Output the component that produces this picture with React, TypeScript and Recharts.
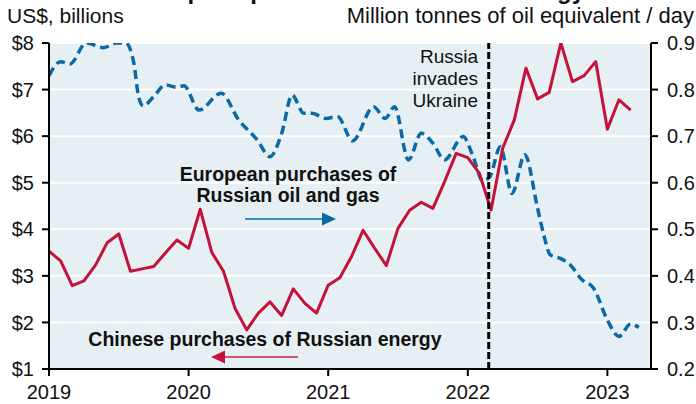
import React from "react";
import {
  ComposedChart,
  Line,
  XAxis,
  YAxis,
  CartesianGrid,
  ReferenceLine,
} from "recharts";

// Month index: 0 = Jan 2019
const YEAR_TICKS = [0, 12, 24, 36, 48];
const YEAR_LABELS = ["2019", "2020", "2021", "2022", "2023"];
const LEFT_TICKS = [1, 2, 3, 4, 5, 6, 7, 8];
const RIGHT_TICKS = [0.2, 0.3, 0.4, 0.5, 0.6, 0.7, 0.8, 0.9];
const INVASION_MONTH = 37.8;

// Chinese purchases of Russian energy (US$ bn, left axis), monthly
const CHINA_VALUES = [
  3.53, 3.32, 2.79, 2.89, 3.23, 3.71, 3.9, 3.1, 3.15, 3.2, 3.49, 3.77,
  3.59, 4.43, 3.5, 3.1, 2.3, 1.84, 2.2, 2.44, 2.15, 2.72, 2.41, 2.2,
  2.8, 2.96, 3.41, 3.98, 3.59, 3.22, 4.02, 4.41, 4.58, 4.45, 5.02, 5.63,
  5.54, 5.2, 4.41, 5.74, 6.35, 7.46, 6.8, 6.94, 8.0, 7.17, 7.3, 7.6,
  6.15, 6.78, 6.56,
];

// European purchases of Russian oil and gas (Mtoe/day, right axis)
const EUROPE_MONTHS = [
  0, 1.0, 1.8, 3.2, 4.7, 5.8, 6.6, 7.3, 7.7, 8.1, 9.0, 10.0, 11.0, 11.6,
  12.9, 14.8, 16.3, 17.9, 19.0, 20.0, 20.9, 21.9, 22.6, 23.8, 24.8, 26.1,
  27.9, 28.9, 29.7, 30.9, 32.0, 33.0, 34.0, 35.6, 36.4, 37.3, 37.9, 38.8,
  39.8, 40.9, 42.0, 42.5, 43.1, 43.9, 44.8, 45.8, 46.8, 48.0, 49.0, 50.0,
  50.7,
];
const EUROPE_VALUES = [
  0.83, 0.86, 0.855, 0.9, 0.89, 0.9, 0.9, 0.856, 0.785, 0.765, 0.785, 0.81,
  0.805, 0.808, 0.756, 0.792, 0.735, 0.692, 0.656, 0.706, 0.788, 0.749,
  0.749, 0.738, 0.742, 0.69, 0.763, 0.738, 0.763, 0.649, 0.706, 0.685,
  0.649, 0.699, 0.66, 0.604, 0.613, 0.677, 0.577, 0.66, 0.545, 0.491,
  0.445, 0.438, 0.424, 0.392, 0.374, 0.305, 0.27, 0.297, 0.289,
];

const chinaData = CHINA_VALUES.map((v, i) => ({ m: i, china: v }));
const europeData = EUROPE_MONTHS.map((m, i) => ({ m, europe: EUROPE_VALUES[i] }));

const FONT = '"Liberation Sans", Arial, Helvetica, sans-serif';
const RED = "#c4123a";
const BLUE = "#0b6aa5";
const TEXT = "#111";

export default function App() {
  return (
    <div style={{ position: "absolute", left: 0, top: 0, width: 696, height: 404, background: "#fff", fontFamily: FONT }}>
      <ComposedChart
        width={696}
        height={404}
        margin={{ top: 43, right: 0, bottom: 0, left: 0 }}
        style={{ fontFamily: FONT }}
      >
        <CartesianGrid
          yAxisId="left"
          vertical={false}
          stroke="#ffffff"
          strokeWidth={2}
          fill="#e6eff3"
        />
        <XAxis
          type="number"
          dataKey="m"
          domain={[0, 51.75]}
          allowDataOverflow
          ticks={YEAR_TICKS}
          interval={0}
          tickFormatter={(v: number) => YEAR_LABELS[YEAR_TICKS.indexOf(v)]}
          height={35}
          tickSize={7}
          tickMargin={9}
          axisLine={{ stroke: "#000", strokeWidth: 2 }}
          tickLine={{ stroke: "#000", strokeWidth: 2 }}
          tick={{ fill: TEXT, fontSize: 20, fontFamily: FONT }}
        />
        <YAxis
          yAxisId="left"
          orientation="left"
          width={49}
          domain={[1, 8]}
          allowDataOverflow
          ticks={LEFT_TICKS}
          interval={0}
          tickFormatter={(v: number) => "$" + v}
          tickSize={7}
          tickMargin={8}
          axisLine={{ stroke: "#000", strokeWidth: 2 }}
          tickLine={{ stroke: "#000", strokeWidth: 2 }}
          tick={{ fill: TEXT, fontSize: 20, fontFamily: FONT }}
        />
        <YAxis
          yAxisId="right"
          orientation="right"
          width={45}
          domain={[0.2, 0.9]}
          allowDataOverflow
          ticks={RIGHT_TICKS}
          interval={0}
          tickFormatter={(v: number) => v.toFixed(1)}
          tickSize={7}
          tickMargin={9}
          axisLine={{ stroke: "#000", strokeWidth: 2 }}
          tickLine={{ stroke: "#000", strokeWidth: 2 }}
          tick={{ fill: TEXT, fontSize: 20, fontFamily: FONT, textAnchor: "start" }}
        />
        <Line
          yAxisId="right"
          data={europeData}
          dataKey="europe"
          type="monotone"
          stroke={BLUE}
          strokeWidth={3.5}
          strokeDasharray="9 5"
          dot={false}
          activeDot={false}
          isAnimationActive={false}
        />
        <Line
          yAxisId="left"
          data={chinaData}
          dataKey="china"
          type="linear"
          stroke={RED}
          strokeWidth={3}
          strokeLinejoin="round"
          dot={false}
          activeDot={false}
          isAnimationActive={false}
        />
        <ReferenceLine
          yAxisId="left"
          x={INVASION_MONTH}
          stroke="#000"
          strokeWidth={3}
          strokeDasharray="7 3"
        />
      </ComposedChart>
      <svg
        width={696}
        height={404}
        style={{ position: "absolute", left: 0, top: 0, pointerEvents: "none" }}
      >
        <text x={585} y={-1} textAnchor="end" fontSize={24} fontWeight="bold" fill={TEXT} fontFamily={FONT}>
          European purchases of Russian energy
        </text>
        <text x={7} y={22.5} fontSize={21} fill={TEXT} fontFamily={FONT}>
          US$, billions
        </text>
        <text x={694} y={22.5} textAnchor="end" fontSize={22} fill={TEXT} fontFamily={FONT}>
          Million tonnes of oil equivalent / day
        </text>
        <g fontSize={19} fill={TEXT} fontFamily={FONT} textAnchor="end">
          <text x={478} y={63}>Russia</text>
          <text x={478} y={85}>invades</text>
          <text x={478} y={107}>Ukraine</text>
        </g>
        <g fontSize={19.5} fontWeight="bold" fill={TEXT} fontFamily={FONT} textAnchor="middle">
          <text x={288} y={181}>European purchases of</text>
          <text x={288} y={202}>Russian oil and gas</text>
        </g>
        <line x1={245} y1={219} x2={324} y2={219} stroke="#3a8cc4" strokeWidth={2} />
        <polygon points="336,219 322,212.5 322,225.5" fill={BLUE} />
        <text x={265} y={346} textAnchor="middle" fontSize={19.5} fontWeight="bold" fill={TEXT} fontFamily={FONT}>
          Chinese purchases of Russian energy
        </text>
        <line x1={298} y1={357} x2={223} y2={357} stroke="#d35572" strokeWidth={2} />
        <polygon points="211,357 225,350.5 225,363.5" fill={RED} />
      </svg>
    </div>
  );
}
